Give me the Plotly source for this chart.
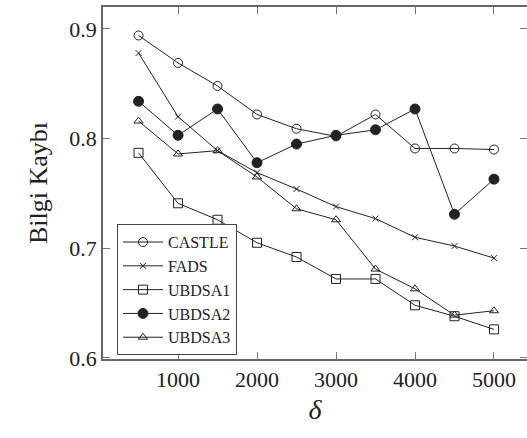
import plotly.graph_objects as go

delta = [500, 1000, 1500, 2000, 2500, 3000, 3500, 4000, 4500, 5000]
castle = [0.894, 0.869, 0.848, 0.822, 0.809, 0.802, 0.822, 0.791, 0.791, 0.790]
fads = [0.878, 0.820, 0.789, 0.769, 0.754, 0.738, 0.727, 0.710, 0.702, 0.691]
ubdsa1 = [0.787, 0.741, 0.726, 0.705, 0.692, 0.672, 0.672, 0.648, 0.638, 0.626]
ubdsa2 = [0.834, 0.803, 0.827, 0.778, 0.795, 0.803, 0.808, 0.827, 0.731, 0.763]
ubdsa3 = [0.816, 0.786, 0.789, 0.765, 0.736, 0.726, 0.681, 0.663, 0.639, 0.643]

x_ticks = [1000, 2000, 3000, 4000, 5000]
y_ticks = [0.6, 0.7, 0.8, 0.9]
y_tick_labels = ["0.6", "0.7", "0.8", "0.9"]

series = [
    ("CASTLE", castle, "circle-open", 9),
    ("FADS", fads, "x-thin-open", 6),
    ("UBDSA1", ubdsa1, "square-open", 9),
    ("UBDSA2", ubdsa2, "circle", 10),
    ("UBDSA3", ubdsa3, "triangle-up-open", 8),
]

FONT = "Liberation Serif, Times New Roman, serif"
fig = go.Figure()
for name, vals, sym, sz in series:
    fig.add_trace(go.Scatter(
        x=delta, y=vals, name=name, mode="lines+markers",
        line=dict(color="#222", width=1),
        marker=dict(symbol=sym, size=sz, color="#222",
                    line=dict(color="#222", width=1)),
    ))

# dummy trace to render right-side tick marks
fig.add_trace(go.Scatter(x=[None], y=[None], yaxis="y2", showlegend=False, hoverinfo="skip"))

fig.update_layout(
    width=527, height=438,
    margin=dict(l=103, r=0, t=7, b=79),
    paper_bgcolor="white", plot_bgcolor="white",
    font=dict(family=FONT, color="#222", size=22),
    showlegend=True,
    legend=dict(
        x=0.033, y=0.011, xanchor="left", yanchor="bottom",
        bgcolor="white", bordercolor="#444", borderwidth=1,
        font=dict(family=FONT, size=16, color="#222"),
        tracegroupgap=0, itemwidth=40,
    ),
    xaxis=dict(
        range=[50, 5418], tickvals=x_ticks, ticks="inside", ticklen=7,
        tickcolor="#777", showline=True, linecolor="#666", linewidth=1.5,
        mirror="ticks", showgrid=False, zeroline=False,
        tickfont=dict(size=22, family=FONT),
        title=dict(text="<i>δ</i>", font=dict(size=28, family=FONT), standoff=8),
    ),
    yaxis=dict(
        range=[0.599, 0.920], tickvals=y_ticks, ticktext=y_tick_labels,
        ticks="inside", ticklen=7, tickcolor="#777", showline=True,
        linecolor="#666", linewidth=1.5, mirror=False, showgrid=False,
        zeroline=False, tickfont=dict(size=22, family=FONT),
        title=dict(text="Bilgi Kaybı", font=dict(size=26, family=FONT), standoff=14),
    ),
    yaxis2=dict(
        overlaying="y", side="right", matches="y", tickvals=y_ticks,
        ticks="inside", ticklen=7, tickcolor="#777", showticklabels=False,
        showgrid=False, showline=False, zeroline=False,
    ),
)

fig.write_html("out.html")
